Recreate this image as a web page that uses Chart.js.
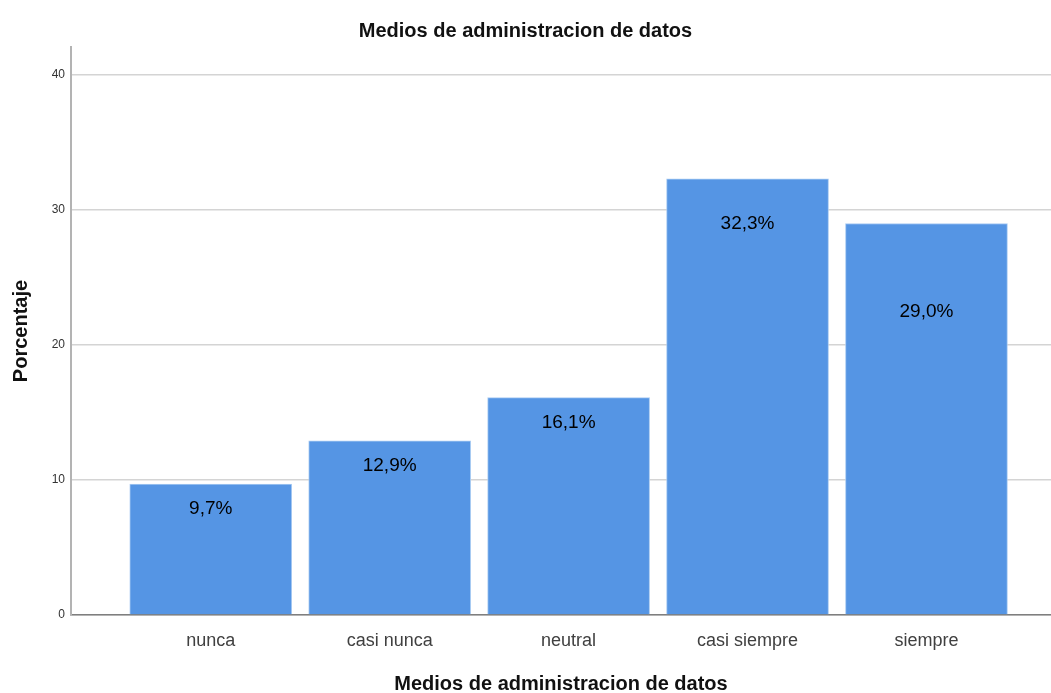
<!DOCTYPE html>
<html>
<head>
<meta charset="utf-8">
<script src="https://cdn.jsdelivr.net/npm/chart.js@4"></script>
<style>
  html, body { margin: 0; padding: 0; background: #fff; }
  #wrap { width: 1051px; height: 693px; }
</style>
</head>
<body>
<div id="wrap"><canvas id="chart"></canvas></div>
<script>
const CATEGORIES = ['nunca', 'casi nunca', 'neutral', 'casi siempre', 'siempre'];
const PERCENTS = [9.7, 12.9, 16.1, 32.3, 29.0];
const LABEL_TEXTS = ['9,7%', '12,9%', '16,1%', '32,3%', '29,0%'];
// how far below the bar top each label sits (px)
const LABEL_DROP = [25, 25, 25, 45, 88];

const FONT = '"Liberation Sans", Arial, sans-serif';

const barLabels = {
  id: 'barLabels',
  afterDatasetsDraw(chart) {
    const { ctx } = chart;
    const meta = chart.getDatasetMeta(0);
    ctx.save();
    ctx.font = '19px ' + FONT;
    ctx.fillStyle = '#000';
    ctx.textAlign = 'center';
    ctx.textBaseline = 'middle';
    meta.data.forEach((bar, i) => {
      ctx.fillText(LABEL_TEXTS[i], bar.x, bar.y + LABEL_DROP[i]);
    });
    ctx.restore();
  }
};

new Chart(document.getElementById('chart'), {
  type: 'bar',
  data: {
    datasets: [{
      data: PERCENTS.map((v, i) => ({ x: i, y: v })),
      backgroundColor: '#5595e4',
      borderColor: '#a9cbf2',
      borderWidth: 1,
      borderSkipped: 'bottom',
      barThickness: 162
    }]
  },
  options: {
    responsive: true,
    maintainAspectRatio: false,
    animation: false,
    layout: { padding: 0 },
    plugins: {
      legend: { display: false },
      tooltip: { enabled: false },
      title: {
        display: true,
        text: 'Medios de administracion de datos',
        color: '#111',
        font: { family: FONT, size: 20, weight: 'bold' },
        padding: { top: 19, bottom: 4 }
      }
    },
    scales: {
      x: {
        type: 'linear',
        offset: false,
        min: -0.781,
        max: 4.696,
        afterFit: (s) => { s.height = 78; },
        grid: { display: false, drawTicks: false, offset: false },
        border: { color: '#7f7f7f', width: 1.5 },
        ticks: {
          stepSize: 1,
          includeBounds: false,
          autoSkip: false,
          maxRotation: 0,
          padding: 15,
          color: '#404040',
          font: { family: FONT, size: 18 },
          callback: (v) => Number.isInteger(v) && CATEGORIES[v] !== undefined ? CATEGORIES[v] : ''
        },
        title: {
          display: true,
          text: 'Medios de administracion de datos',
          color: '#111',
          font: { family: FONT, size: 20, weight: 'bold' },
          padding: { top: 0, bottom: -3 }
        }
      },
      y: {
        min: 0,
        max: 42.07,
        afterFit: (s) => { s.width = 71; },
        grid: { color: '#d4d4d4', lineWidth: 1.5, drawTicks: false },
        border: { color: '#b3b3b3', width: 2 },
        ticks: {
          stepSize: 10,
          includeBounds: false,
          padding: 6,
          color: '#333',
          font: { family: FONT, size: 12 }
        },
        title: {
          display: true,
          text: 'Porcentaje',
          color: '#111',
          font: { family: FONT, size: 20, weight: 'bold' },
          padding: { top: 9, bottom: 0 }
        }
      }
    }
  },
  plugins: [barLabels]
});
</script>
</body>
</html>
